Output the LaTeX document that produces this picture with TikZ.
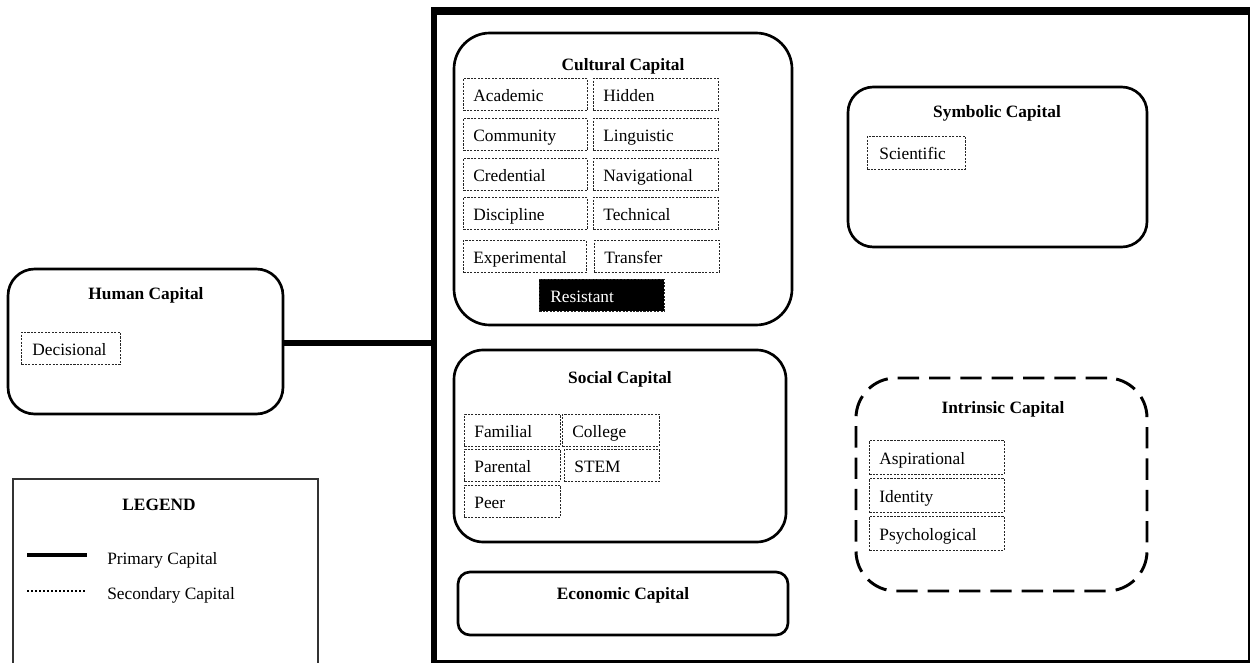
\documentclass[tikz,border=0pt]{standalone}
\usepackage{fontspec}
\setmainfont{Liberation Serif}
\def\pxu{0.75pt}
\tikzset{
    capbox/.style={draw, line width=2pt, rounded corners=#1, inner sep=0pt},
    captitle/.style={anchor=base, font=\fontsize{13}{15}\selectfont\bfseries},
    sub/.style={draw=black!85, line width=0.6pt, dash pattern=on 1.6pt off 1pt,
        anchor=north west, align=left, inner xsep=10*\pxu, inner ysep=0pt,
        text width=(#1-20)*\pxu, minimum height=32*\pxu,
        text height=11pt, text depth=0.5pt},
}
\begin{document}
\begin{tikzpicture}[x=0.75pt, y=-0.75pt, font=\fontsize{13}{15}\selectfont]
    \useasboundingbox (0,0) rectangle (1252,663);

    % outer frame
    \draw[line width=6pt] (431,11) -- (1250,11);
    \draw[line width=4.5pt] (434,8) -- (434,663);
    \draw[line width=2pt] (1249,11) -- (1249,663);
    \draw[line width=2.2pt] (432,661.5) -- (1250,661.5);
    \coordinate (frameL) at (434,343);

    % cultural
    \node[capbox=27pt, minimum width=338*\pxu, minimum height=292*\pxu] (cultural) at (623,179) {};
    \node[captitle] (culturalT) at (623,71) {Cultural Capital};
    \node[sub=124] (academic) at (463,78) {Academic};
    \node[sub=125] (hidden) at (593,78) {Hidden};
    \node[sub=124] (community) at (463,118) {Community};
    \node[sub=125] (linguistic) at (593,118) {Linguistic};
    \node[sub=124] (credential) at (463,158) {Credential};
    \node[sub=125] (navigational) at (593,158) {Navigational};
    \node[sub=124] (discipline) at (463,197) {Discipline};
    \node[sub=125] (technical) at (593,197) {Technical};
    \node[sub=123] (experimental) at (463,240) {Experimental};
    \node[sub=125] (transfer) at (594,240) {Transfer};
    \node[sub=125, fill=black, text=white, inner xsep=11*\pxu, text width=103*\pxu] (resistant) at (539,279) {Resistant};

    % social
    \node[capbox=22pt, minimum width=332*\pxu, minimum height=192*\pxu] (social) at (620,446) {};
    \node[captitle] (socialT) at (620,383) {Social Capital};
    \node[sub=96] (familial) at (464,414) {Familial};
    \node[sub=97] (college) at (562,414) {College};
    \node[sub=96] (parental) at (464,449) {Parental};
    \node[sub=95] (stem) at (564,449) {STEM};
    \node[sub=96] (peer) at (464,485) {Peer};

    % economic
    \node[capbox=9pt, minimum width=330*\pxu, minimum height=63*\pxu] (economic) at (623,603.5) {};
    \node[captitle] (economicT) at (623,599) {Economic Capital};

    % symbolic
    \node[capbox=19pt, minimum width=299*\pxu, minimum height=160*\pxu] (symbolic) at (997.5,167) {};
    \node[captitle] (symbolicT) at (997,118) {Symbolic Capital};
    \node[sub=98, inner xsep=12*\pxu, text width=74*\pxu, minimum height=33*\pxu] (scientific) at (867,136) {Scientific};

    % intrinsic
    \node[capbox=30pt, dash pattern=on 16pt off 7.5pt, line width=2.2pt,
        minimum width=291*\pxu, minimum height=213*\pxu] (intrinsic) at (1001.5,484.5) {};
    \node[captitle] (intrinsicT) at (1003,413) {Intrinsic Capital};
    \node[sub=135, minimum height=34*\pxu] (aspirational) at (869,440) {Aspirational};
    \node[sub=135, minimum height=34*\pxu] (identity) at (869,478) {Identity};
    \node[sub=135, minimum height=34*\pxu] (psychological) at (869,516) {Psychological};

    % human
    \node[capbox=20pt, minimum width=275*\pxu, minimum height=145*\pxu] (human) at (145.5,341.5) {};
    \node[captitle] (humanT) at (146,299) {Human Capital};
    \node[sub=99, inner xsep=11*\pxu, text width=77*\pxu] (decisional) at (21,332) {Decisional};

    \draw[line width=5pt] (human.east |- frameL) -- (frameL);

    % legend
    \draw[line width=0.8pt, black!80] (13,666) -- (13,479) -- (318,479) -- (318,666);
    \node[captitle] (legendT) at (159,510) {LEGEND};
    \draw[line width=2.5pt] (27,555) -- (87,555);
    \draw[line width=2pt, dash pattern=on 1.5pt off 1.5pt] (27,591) -- (87,591);
    \node[anchor=base west, inner sep=0pt] (primary) at (107,564) {Primary Capital};
    \node[anchor=base west, inner sep=0pt] (secondary) at (107,599) {Secondary Capital};
\end{tikzpicture}
\end{document}
